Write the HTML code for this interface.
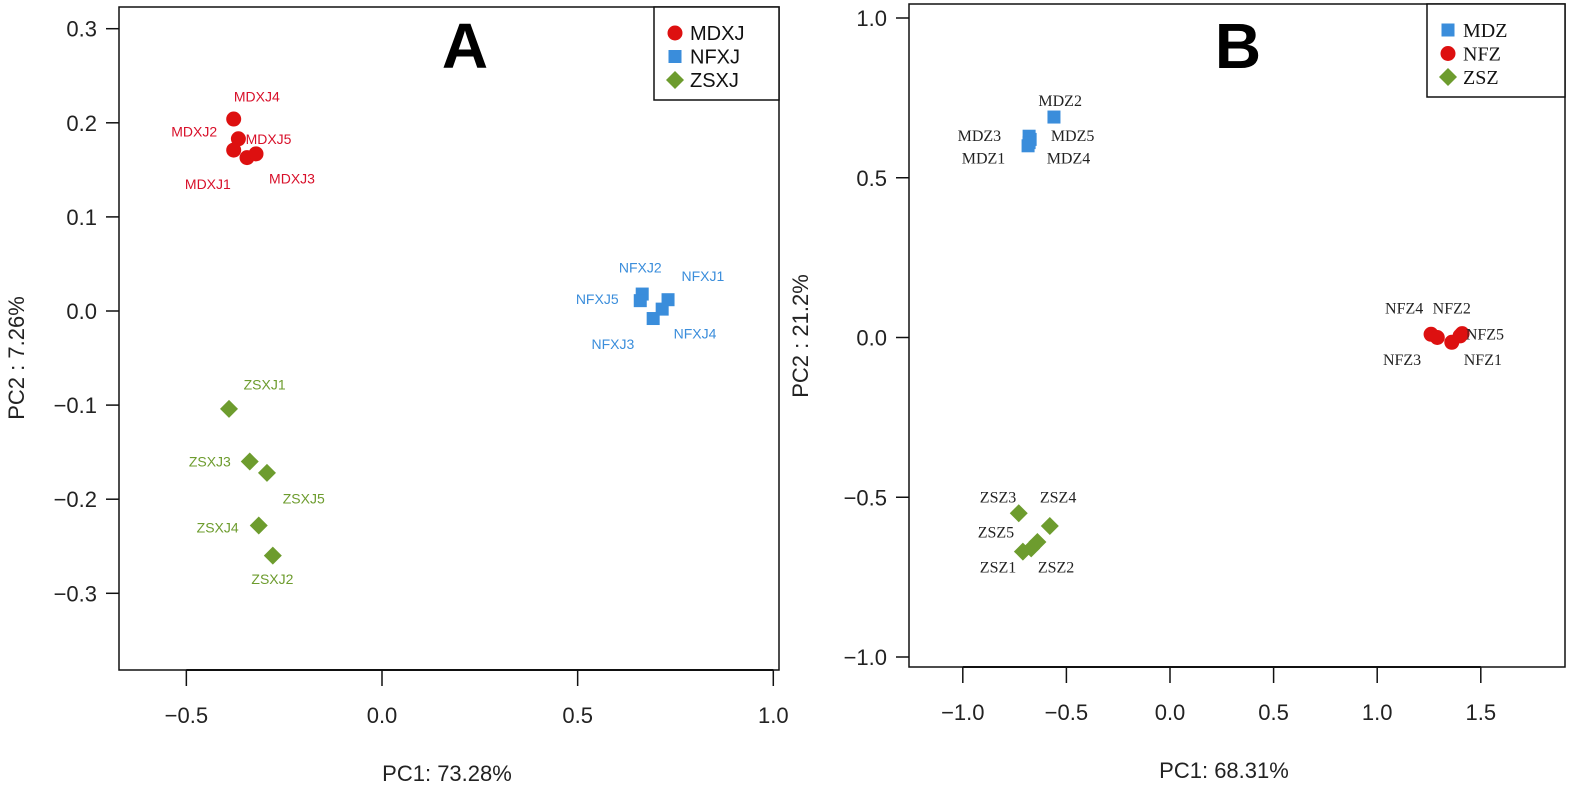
<!DOCTYPE html>
<html><head><meta charset="utf-8">
<style>
html,body{margin:0;padding:0;background:#fff;}
svg{display:block;}
.tick{font-family:"Liberation Sans",sans-serif;font-size:22px;fill:#222;}
</style></head>
<body>
<svg id="chart" width="1575" height="789" viewBox="0 0 1575 789" xmlns="http://www.w3.org/2000/svg"></svg>
<script>
// ---- Panel A data ----
const aGroups = ["MDXJ","NFXJ","ZSXJ"];
const aNames = [["MDXJ4","MDXJ2","MDXJ1","MDXJ3","MDXJ5"],["NFXJ2","NFXJ5","NFXJ1","NFXJ4","NFXJ3"],["ZSXJ1","ZSXJ3","ZSXJ5","ZSXJ4","ZSXJ2"]];
const aPC1 = [[-0.379,-0.367,-0.379,-0.345,-0.322],[0.665,0.660,0.731,0.716,0.693],[-0.391,-0.338,-0.294,-0.315,-0.279]];
const aPC2 = [[0.204,0.183,0.171,0.163,0.167],[0.018,0.011,0.012,0.002,-0.008],[-0.104,-0.160,-0.172,-0.228,-0.260]];
const aLabX = [[-0.32,-0.48,-0.445,-0.23,-0.29],[0.66,0.55,0.82,0.80,0.59],[-0.30,-0.44,-0.20,-0.42,-0.28]];
const aLabY = [[0.228,0.191,0.135,0.141,0.183],[0.046,0.013,0.037,-0.024,-0.035],[-0.078,-0.160,-0.199,-0.230,-0.285]];
const aXTicks = [-0.5,0.0,0.5,1.0];
const aXTickLabels = ["\u22120.5","0.0","0.5","1.0"];
const aYTicks = [0.3,0.2,0.1,0.0,-0.1,-0.2,-0.3];
const aYTickLabels = ["0.3","0.2","0.1","0.0","\u22120.1","\u22120.2","\u22120.3"];
// ---- Panel B data ----
const bGroups = ["MDZ","NFZ","ZSZ"];
const bNames = [["MDZ2","MDZ3","MDZ5","MDZ1","MDZ4"],["NFZ4","NFZ2","NFZ3","NFZ1","NFZ5"],["ZSZ3","ZSZ4","ZSZ5","ZSZ2","ZSZ1"]];
const bPC1 = [[-0.56,-0.68,-0.675,-0.685,-0.68],[1.26,1.29,1.36,1.40,1.41],[-0.73,-0.58,-0.64,-0.67,-0.71]];
const bPC2 = [[0.69,0.63,0.62,0.60,0.61],[0.01,0.0,-0.015,0.005,0.012],[-0.55,-0.59,-0.64,-0.66,-0.67]];
const bLabX = [[-0.53,-0.92,-0.47,-0.90,-0.49],[1.13,1.36,1.12,1.51,1.52],[-0.83,-0.54,-0.84,-0.55,-0.83]];
const bLabY = [[0.74,0.63,0.63,0.56,0.56],[0.09,0.09,-0.07,-0.07,0.01],[-0.50,-0.50,-0.61,-0.72,-0.72]];
const bXTicks = [-1.0,-0.5,0.0,0.5,1.0,1.5];
const bXTickLabels = ["\u22121.0","\u22120.5","0.0","0.5","1.0","1.5"];
const bYTicks = [1.0,0.5,0.0,-0.5,-1.0];
const bYTickLabels = ["1.0","0.5","0.0","\u22120.5","\u22121.0"];

const NS="http://www.w3.org/2000/svg";
const svg=document.getElementById('chart');
function mk(tag,attrs,parent){const e=document.createElementNS(NS,tag);for(const k in attrs)e.setAttribute(k,attrs[k]);(parent||svg).appendChild(e);return e;}

function marker(g,shape,cx,cy,color){
  let e;
  if(shape==='circle'){e=mk('circle',{cx:cx,cy:cy,r:7.5,fill:color},g);}
  else if(shape==='square'){e=mk('rect',{x:cx-6.5,y:cy-6.5,width:13,height:13,fill:color},g);}
  else {e=mk('polygon',{points:`${cx},${cy-9} ${cx+9},${cy} ${cx},${cy+9} ${cx-9},${cy}`,fill:color},g);}
  return e;
}

function panel(cfg){
  const g=mk('g',{});
  
  
  const sx=v=>cfg.x0px+(v-cfg.x0v)*cfg.xs;
  const sy=v=>cfg.y0px-(v-cfg.y0v)*cfg.ys;
  const box=mk('rect',{x:cfg.L,y:cfg.T,width:cfg.R-cfg.L,height:cfg.B-cfg.T,fill:'none',stroke:'#111','stroke-width':1.5},g);
  
  
  const xa=mk('g',{},g);
  
  
  const xf=sx(cfg.xTicks[0]),xl=sx(cfg.xTicks[cfg.xTicks.length-1]);
  mk('line',{x1:xf,y1:cfg.B,x2:xl,y2:cfg.B,stroke:'#111','stroke-width':2},xa);
  cfg.xTicks.forEach((t,i)=>{
    const x=sx(t);
    mk('line',{x1:x,y1:cfg.B,x2:x,y2:cfg.B+16,stroke:'#111','stroke-width':1.5},xa);
    const tx=mk('text',{x:x,y:cfg.B+53,'text-anchor':'middle',class:'tick'},xa);
    tx.textContent=cfg.xTickLabels[i];
    
    
  });
  const ya=mk('g',{},g);
  
  
  cfg.yTicks.forEach((t,i)=>{
    const y=sy(t);
    mk('line',{x1:cfg.L-13,y1:y,x2:cfg.L,y2:y,stroke:'#111','stroke-width':1.5},ya);
    const ty=mk('text',{x:cfg.L-22,y:y+8,'text-anchor':'end',class:'tick'},ya);
    ty.textContent=cfg.yTickLabels[i];
    
    
  });
  const xt=mk('text',{x:cfg.xTitleX,y:cfg.xTitleY,'text-anchor':'middle',class:'tick'},g);
  xt.textContent=cfg.xTitle;
  
  
  const yt=mk('text',{x:0,y:0,'text-anchor':'middle',class:'tick',transform:`translate(${cfg.yTitleX},${cfg.yTitleY}) rotate(-90)`},g);
  yt.textContent=cfg.yTitle;
  
  
  const big=mk('text',{x:cfg.letterX,y:68,'text-anchor':'middle','font-family':'Liberation Sans, sans-serif','font-weight':'bold','font-size':'64px',fill:'#000'},g);
  big.textContent=cfg.letter;
  
  
  cfg.groups.forEach((grp,gi)=>{
    const sg=mk('g',{},g);
    
    
    cfg.px[gi].forEach((v,j)=>{
      const m=marker(sg,cfg.shapes[gi],sx(v),sy(cfg.py[gi][j]),cfg.colors[gi]);
      
      
      const lt=mk('text',{x:sx(cfg.lx[gi][j]),y:sy(cfg.ly[gi][j])+5,'text-anchor':'middle','font-family':cfg.labFont,'font-size':cfg.labSize,fill:cfg.labColors[gi]},sg);
      lt.textContent=cfg.names[gi][j];
      
      
    });
  });
  const lg=mk('g',{},g);
  
  
  mk('rect',{x:cfg.legX,y:cfg.T,width:cfg.R-cfg.legX,height:93,fill:'#fff',stroke:'#111','stroke-width':1.5},lg);
  cfg.groups.forEach((grp,gi)=>{
    const y=cfg.T+26+gi*23.5;
    const ent=mk('g',{},lg);
    
    
    marker(ent,cfg.shapes[gi],cfg.legX+21,y,cfg.colors[gi]);
    const t=mk('text',{x:cfg.legX+36,y:y+7,'font-family':cfg.legFont,'font-size':'20px',fill:'#111'},ent);
    t.textContent=grp;
  });
}

panel({name:'panel-a',letter:'A',letterX:465,L:119,R:779,T:7,B:670,
  x0v:0,x0px:382,xs:391.3,y0v:0,y0px:311,ys:941,
  xTicks:aXTicks,xTickLabels:aXTickLabels,yTicks:aYTicks,yTickLabels:aYTickLabels,
  xTitle:'PC1: 73.28%',xTitleX:447,xTitleY:781,yTitle:'PC2 : 7.26%',yTitleX:24,yTitleY:358,
  groups:aGroups,names:aNames,px:aPC1,py:aPC2,lx:aLabX,ly:aLabY,
  shapes:['circle','square','diamond'],colors:['#dd1010','#3a8ddb','#6d9c2e'],
  labColors:['#d8102a','#3a8ddb','#6d9c2e'],labFont:'Liberation Sans, sans-serif',labSize:'14px',
  legX:654,legFont:'Liberation Sans, sans-serif'});

panel({name:'panel-b',letter:'B',letterX:1238,L:909,R:1565,T:4,B:667,
  x0v:0,x0px:1170,xs:207.2,y0v:0,y0px:337.5,ys:319.5,
  xTicks:bXTicks,xTickLabels:bXTickLabels,yTicks:bYTicks,yTickLabels:bYTickLabels,
  xTitle:'PC1: 68.31%',xTitleX:1224,xTitleY:778,yTitle:'PC2 : 21.2%',yTitleX:808,yTitleY:336,
  groups:bGroups,names:bNames,px:bPC1,py:bPC2,lx:bLabX,ly:bLabY,
  shapes:['square','circle','diamond'],colors:['#3a8ddb','#dd1010','#6d9c2e'],
  labColors:['#222','#222','#222'],labFont:'Liberation Serif, serif',labSize:'16px',
  legX:1427,legFont:'Liberation Serif, serif'});
</script>
</body></html>
